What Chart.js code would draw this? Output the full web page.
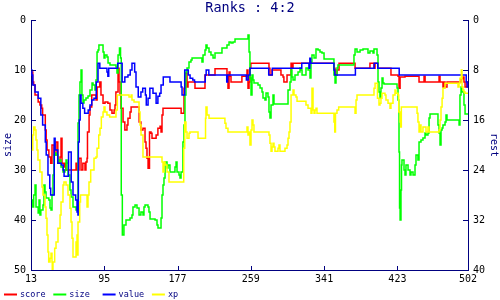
<!DOCTYPE html>
<html>
<head>
<meta charset="utf-8">
<script src="https://cdn.jsdelivr.net/npm/chart.js@4/dist/chart.umd.min.js"></script>
<style>
  html, body { margin: 0; padding: 0; background: #fff; }
  #wrap { width: 500px; height: 300px; }
</style>
</head>
<body>
<div id="wrap"><canvas id="c" width="500" height="300"></canvas></div>
<script>
// x ticks (turn index) and the two y ranges
const xTicks = [13, 95, 177, 259, 341, 423, 502];
const sizeRange = [0, 50];
const restRange = [0, 40];

// series as [turn, value] pairs
// score, value, xp on the "rest" axis; size on the "size" axis
const scorePts = [[14,8.3],[15,9.9],[16,10.4],[17.5,12],[21,13.1],[23,13.6],[25,14.1],[26,15.2],[29,17.6],[30,19.2],[31,20.8],[33,21.9],[35,22.9],[36.5,20],[38.7,21.6],[41,19.5],[43,22.9],[45.5,21.9],[46.6,18.9],[47.7,22.9],[50,23.5],[51,22.9],[52,24],[62,24],[63.4,22.9],[64.5,24],[66.7,22.1],[69,24],[71,22.9],[73.4,24],[74.5,22.7],[75.7,22.1],[76.2,17.9],[78,15.2],[79,13.9],[81,12],[84.6,12],[85.7,12.8],[87,10.7],[90,9.9],[91.3,12],[93.6,13.3],[95.8,13.1],[99,13.3],[101.4,14.4],[103.6,14.9],[106,14.4],[107,13.6],[108,11.5],[110.4,7.7],[111.5,9.9],[112.6,12],[113.7,14.1],[116,16.3],[118,17.6],[120.4,16.8],[121.5,15.7],[123.8,14.7],[125,13.9],[128,13.9],[134,16.3],[136,17.6],[138.3,17.3],[140.6,19.5],[141.7,20.5],[142.8,22.1],[144,23.7],[145.6,17.9],[147.3,18.1],[148.4,18.9],[153,18.4],[155,17.3],[157.4,17],[158.5,17.9],[159.6,15.2],[160.7,14.1],[179.7,14.1],[181,14.9],[183,14.9],[184.2,10.9],[185.3,8.5],[186.4,8.5],[187.6,10.7],[188.7,9.9],[195.4,9.9],[196.5,10.9],[206.6,10.9],[207.7,8.8],[217.8,8.8],[218.9,7.8],[231,7.8],[232.3,8.8],[233.4,10.9],[234.6,8.3],[235.7,9],[236.8,9.9],[248,9.9],[249,9],[253.6,9],[254.7,8],[255.8,10.9],[257,9.9],[258,7.7],[259,6.9],[278,6.9],[279.3,7.7],[280.4,8.8],[282.7,8],[291.6,8],[292.7,8.8],[295,9.1],[296,9.9],[298.3,9.9],[299.5,8.8],[302.8,8.8],[304,6.9],[305,7.7],[306.2,6.9],[351,6.9],[352,7.7],[353.2,8.8],[355.4,8],[357.7,6.9],[374.4,6.9],[375.6,7.7],[391.2,7.7],[392.3,6.9],[395.7,6.9],[396.8,7.7],[398,6.9],[400,6.9],[401.3,7.7],[414.7,7.7],[415.8,8.8],[423.7,9],[424.8,10.9],[426,9.1],[431.5,9],[446,9],[447.2,9.9],[451.6,9.9],[452.8,9],[454,9.9],[468.4,9.9],[469.6,9],[470.7,9.9],[473,9.9],[474,10.7],[475.2,9.9],[476.3,10.7],[478.5,9.9],[493,9.9],[494.2,9.4],[496.4,9.1],[497.5,9.9],[498.7,10.7],[500.9,9.9],[502,9.9]];

const sizePts = [[14,36],[15,37.4],[16,35],[17.5,33],[18.6,37.4],[21,38.6],[22,36],[23,39],[24,38],[26.4,37],[27.5,33],[28.7,34.4],[29.8,35.6],[33,36],[34.3,37.6],[35.4,38],[36.5,35],[37.6,31],[38.7,27],[39.9,26.6],[41,27],[43.2,28.4],[44.3,28],[46.6,29.4],[48.8,30.4],[51,30],[52.2,28],[53.3,28.6],[54.4,31],[56.6,34],[57.8,35.4],[60,37.4],[62.2,37.4],[63.4,38],[64.5,37.4],[65.6,20.6],[66.7,15],[67.8,12.4],[69,10],[70,15],[71.2,16.6],[72.3,16],[74.5,15.6],[76.8,15.2],[79,14],[81.3,12.6],[82.4,13],[84.6,14],[85.7,12],[86.9,6.4],[88,6],[89,5],[92.4,5],[93.6,6.4],[94.7,7.6],[95.8,7],[98,7.4],[99.2,8.6],[101.4,9],[108.1,9.4],[109.2,10.6],[110.4,7],[112,5.6],[113.2,7.6],[114,35],[115.2,43],[117,41],[119.3,40],[123.8,39.6],[126,39],[127.1,37.4],[129.4,37],[131.6,37.6],[133.9,39],[136,38.4],[138.3,39],[139.4,37.4],[140.6,37],[143.9,37.4],[145,38.4],[146.2,39.8],[151.8,40],[154,41],[155.1,41.6],[157.4,41.6],[158.5,39.6],[159.6,35],[160.7,33],[161.8,31.6],[163,28.4],[165.2,29.6],[166.3,29],[168.5,30.4],[171.9,30.4],[174.1,29.4],[175.3,28.4],[176.4,30.4],[178.6,31],[179.7,31.6],[180.9,30.4],[183,24.4],[184.2,21],[185.3,15],[186.4,10.4],[187.6,9.6],[189.8,8.4],[192,8],[193.2,7.6],[203.2,7.6],[204.3,8.4],[205.5,7],[207.7,6],[208.8,5],[210,5.6],[212.2,6.4],[214.4,7],[216.7,7.6],[218.9,6.6],[225.6,6.6],[226.7,5.6],[231.2,5.6],[232.3,5],[234.6,4.4],[236.8,4.6],[239,4.4],[241.3,3.8],[254.7,3.8],[255.8,3],[257,6.4],[258,11.6],[259.2,15],[260.3,11],[261.4,12],[262.5,12.6],[267,13],[269.3,13.6],[271.5,14.4],[272.6,15.6],[274.8,16],[276,14.6],[278.2,15.4],[279.3,18.4],[280.4,19.6],[281.6,17],[282.7,17],[283.8,15],[284.9,16.8],[299.5,16.8],[300.6,14],[302.8,12.4],[304,10],[305,11.4],[306.2,12],[308.4,11],[310.7,11],[311.8,10.4],[314,9.6],[315.1,10],[316.3,11],[319.6,11],[320.7,9.6],[323,10],[325.2,11.6],[326.3,8.4],[327.4,7],[329.7,7.6],[331.9,5.8],[334.2,6],[336.4,6.4],[338.6,6.6],[340.9,7.8],[351,7.8],[352,11],[353.2,12.6],[354.3,11],[355.4,9.6],[356.5,9],[373.3,9],[374.4,7],[375.6,5.8],[377.8,6.4],[381.2,6],[384.5,5.8],[389,5.8],[390.1,6.6],[392.3,6.2],[395.7,6.6],[396.8,5.8],[399,5.8],[400.2,7],[401.3,12.4],[402.4,14.4],[403.5,15.6],[404.6,13.6],[405.8,11.6],[406.9,12.6],[408,12.8],[421.4,12.8],[422.6,13.6],[423.7,16],[424.5,18.4],[424.8,26.4],[425.4,37.6],[426,40],[427,34],[427.6,29],[428.1,28],[430.4,30],[431.5,31],[432.6,29],[434.9,30],[437.1,31],[438.2,30.4],[440.5,31],[442.7,29],[443.8,27],[446,28],[447.2,24.4],[449.4,24],[451.6,23.6],[453.9,22.6],[455,23],[457.2,22.6],[458.4,19.6],[459.5,18.8],[467.3,18.8],[468.4,21],[469.6,22.6],[470.7,25],[471.8,22],[473,21.6],[474,21],[476.3,20.4],[477.4,19],[478.5,20],[490.8,20],[492,21],[493,15],[494.2,13.4],[495.3,14.4],[496.4,14.4],[497.5,17],[498.7,18.8],[502,18.8]];

const valuePts = [[13,8],[14,8.8],[15,10.4],[17.5,11.5],[21,12.5],[24,15.2],[26,16.8],[29,19.5],[30,21.6],[32,24.8],[34,26.9],[35,28],[39,18.9],[40,20.8],[43,22.9],[47,23.2],[49,24],[50,25],[54,25],[55,21.1],[58,25.9],[60,28],[63,28.8],[64.5,30.7],[65.5,31.2],[66,19.5],[67,16],[68,12],[69,13.3],[71,14.1],[73,14.9],[77,14.4],[79,13.6],[81,12.8],[83.5,12.5],[86,9.9],[88,6.9],[90,7.7],[97,7.7],[98,8.3],[99,9],[100,7.7],[108,7.7],[110,6.9],[114,6.9],[115,9.9],[118,9.1],[121.5,8.8],[124,8],[126,6.9],[127,6.9],[129,8.3],[130.5,10.7],[133,12.3],[136,11.5],[138,10.9],[141,12],[142,13.6],[144,12.5],[146,10.9],[149.5,11.7],[153,13.3],[155,12.2],[157,11.7],[158.5,10.4],[161,9.1],[166,9.1],[168.5,9.9],[180,9.9],[181,10.7],[182,12],[184,12],[185,8],[187.5,8],[189,8.8],[191,9.3],[194,9.6],[196,9.9],[205,9.9],[208,8.8],[209,8],[211,8],[212,8.8],[231,8.8],[232,9.9],[233,8.8],[252,8.8],[254,9.6],[256,8.8],[258,7.7],[278,7.7],[279,8.8],[282,8.8],[283,7.7],[315,7.7],[316,6.9],[323,6.9],[324,7.7],[325,6.1],[326,6.9],[351,6.9],[352,8],[353,8.8],[374,8.8],[376,7.7],[396,7.7],[397,6.9],[400,6.9],[401,7.7],[424,7.7],[425,8.8],[499,8.8],[500,9.9],[501,10.7],[502,10.7]];

const xpPts = [[14,20.8],[15,18.4],[16,17.1],[17.5,17.6],[18.6,19.2],[19.7,20.8],[20.8,22.4],[23,24.3],[25.3,26.7],[26.4,28],[28.7,29.9],[29.8,31.7],[30.9,34.4],[32,37.1],[32.8,38.7],[34.3,38.1],[35.4,37.3],[36.5,38.7],[36.8,40],[37.6,38.7],[39.5,36.5],[41,35.5],[43.2,33.3],[45.5,31.2],[46.6,29.1],[48.8,26.4],[49.9,25.9],[52.2,26.4],[54.4,28],[56.6,30.1],[57.8,32.3],[58.9,34.9],[60,37.9],[62.2,37.9],[63.4,35.5],[64.5,34.4],[65.1,37.6],[65.6,32.3],[67.5,29.1],[68.4,28],[74.5,28],[75.7,29.9],[76.8,28],[77.9,25.9],[79.8,24],[82.4,24],[83.5,22.1],[85.7,21.9],[86.9,20.5],[88.8,18.4],[90.2,17.3],[91.7,15.5],[93.6,14.7],[94.7,13.9],[95.8,14.7],[98,15.2],[101,15.5],[107,15.5],[108.1,14.4],[109.6,12],[120.4,12],[122.7,12.3],[125,12],[126,12.8],[128.3,13.1],[132.7,13.1],[133.9,14.7],[135,16.8],[136.1,18.4],[138.3,21.9],[157.4,21.9],[159.6,22.7],[160.7,24.3],[161.8,22.7],[163,23.2],[165.2,24.3],[167.4,25.9],[183,25.9],[183.9,20.5],[185,16.3],[186.4,17.9],[187.6,18.9],[189.8,18.1],[190.9,17.9],[198.8,17.9],[199.9,18.9],[207.7,18.9],[208.3,15.7],[208.8,13.9],[210,15.2],[212.2,15.7],[227.8,15.7],[230,16.5],[231.2,17.3],[233.4,17.9],[253.6,17.9],[254.7,17.1],[255.8,18.4],[257,17.9],[258,20],[259.2,17.6],[260.3,16],[261.4,16.8],[262.5,17.9],[278.2,17.9],[279.3,18.4],[280.4,19.7],[281.6,21],[282.7,20.3],[283.8,19.7],[284.9,20.3],[286,21],[289.4,20.5],[290.5,20],[291.6,21],[296,21],[297.2,20.5],[299.5,20],[300.6,18.9],[301.7,17.9],[302.8,16.3],[304,12],[306.2,11.2],[307.3,12],[309.5,12.3],[310.7,13],[319.6,13],[320.7,13.6],[323,14.1],[325.2,14.1],[326.3,14.9],[327.4,10.9],[328.6,14.4],[329.7,14.9],[330.8,14.4],[331.9,14.1],[333,14.9],[351,14.9],[352,16.3],[352.9,17.9],[353.7,14.9],[355.4,14.4],[357.3,13.9],[374.4,13.9],[375.6,14.9],[376.7,12.8],[377.8,12],[395.7,12],[396.8,10.9],[398,10.1],[400.2,10.1],[400.7,12.5],[402.4,13.6],[403.5,13.3],[404.6,12.5],[405.8,11.7],[409.1,12],[410.2,12.8],[412.5,13.3],[414.7,14.1],[415.8,13.3],[418.1,12],[420.3,11.2],[421.4,11.7],[423.7,12],[424.5,14.7],[426,16.3],[426.7,17.1],[427.4,13.9],[443.8,13.9],[445,14.9],[446,16.3],[447.2,17.9],[448.3,16.8],[449.4,17.9],[451.6,17.1],[453.9,17.1],[455,17.9],[457.2,17.1],[458.4,17.9],[468.4,17.9],[469.6,17.6],[470.7,16],[471.8,13.9],[473,12.5],[474,10.9],[476.3,10.1],[488.6,10.1],[490.8,10.7],[492,10.1],[493,9.3],[494.5,8],[495.3,10.7],[496.4,11.2],[497.5,11.5],[498.7,11.7],[502,11.7]];

const NAVY = '#000080';
const MONO = '"DejaVu Sans Mono", "Liberation Mono", monospace';

function series(label, pts, color, axis, order) {
  return {
    label: label,
    data: pts.map(p => ({x: p[0], y: p[1]})),
    borderColor: color,
    backgroundColor: color,
    borderWidth: 1.5,
    pointRadius: 0,
    stepped: true,
    fill: false,
    yAxisID: axis,
    order: order
  };
}

// little tick marks pointing into the plot
const innerTicks = {
  id: 'innerTicks',
  afterDraw(chart) {
    const {ctx, chartArea: a, scales} = chart;
    ctx.save();
    ctx.strokeStyle = NAVY;
    ctx.lineWidth = 1;
    ctx.beginPath();
    scales.x.ticks.forEach(t => {
      const px = Math.round(scales.x.getPixelForValue(t.value)) + 0.5;
      ctx.moveTo(px, a.bottom); ctx.lineTo(px, a.bottom - 4);
    });
    scales.y.ticks.forEach(t => {
      const py = Math.round(scales.y.getPixelForValue(t.value)) + 0.5;
      ctx.moveTo(a.left, py); ctx.lineTo(a.left + 5, py);
    });
    scales.y1.ticks.forEach(t => {
      const py = Math.round(scales.y1.getPixelForValue(t.value)) + 0.5;
      ctx.moveTo(a.right, py); ctx.lineTo(a.right - 5, py);
    });
    ctx.stroke();
    ctx.restore();
  }
};

// legend row along the bottom, fixed slots
const bottomLegend = {
  id: 'bottomLegend',
  afterDraw(chart) {
    const ctx = chart.ctx;
    ctx.save();
    ctx.font = '8.5px ' + MONO;
    ctx.textBaseline = 'middle';
    ctx.fillStyle = NAVY;
    chart.data.datasets.forEach((ds, i) => {
      const x0 = 4 + i * 49.3;
      ctx.strokeStyle = ds.borderColor;
      ctx.lineWidth = 2;
      ctx.beginPath();
      ctx.moveTo(x0, 294.5); ctx.lineTo(x0 + 13, 294.5);
      ctx.stroke();
      ctx.fillText(ds.label, x0 + 16, 294.5);
    });
    ctx.restore();
  }
};

new Chart(document.getElementById('c'), {
  type: 'line',
  data: {
    datasets: [
      series('score', scorePts, '#ff0000', 'y1', 3),
      series('size', sizePts, '#00ff00', 'y', 2),
      series('value', valuePts, '#0000ff', 'y1', 1),
      series('xp', xpPts, '#ffff00', 'y1', 0)
    ]
  },
  options: {
    responsive: false,
    animation: false,
    events: [],
    layout: { padding: 0 },
    plugins: {
      legend: { display: false },
      tooltip: { enabled: false },
      title: {
        display: true,
        text: 'Ranks : 4:2',
        color: NAVY,
        font: { family: MONO, size: 13.5, weight: 'normal', lineHeight: 1.2 },
        padding: { top: 0, bottom: 3.8 }
      }
    },
    scales: {
      x: {
        type: 'linear',
        min: xTicks[0],
        max: xTicks[xTicks.length - 1],
        afterBuildTicks: s => { s.ticks = xTicks.map(v => ({value: v})); },
        afterFit: s => { s.height = 30; },
        grid: { display: false, drawTicks: false },
        border: { display: true, color: NAVY, width: 1 },
        ticks: { color: '#000', padding: 3, maxRotation: 0, autoSkip: false,
                 font: { family: MONO, size: 10 }, callback: v => String(v) }
      },
      y: {
        position: 'left',
        reverse: true,
        min: sizeRange[0],
        max: sizeRange[1],
        afterFit: s => { s.width = 31; },
        grid: { display: false, drawTicks: false },
        border: { display: true, color: NAVY, width: 1 },
        ticks: { stepSize: 10, color: '#000', padding: 5, font: { family: MONO, size: 10 } },
        title: { display: true, text: 'size', color: NAVY, padding: { top: 2.5, bottom: 0 },
                 font: { family: MONO, size: 10 } }
      },
      y1: {
        position: 'right',
        reverse: true,
        min: restRange[0],
        max: restRange[1],
        afterFit: s => { s.width = 32; },
        grid: { display: false, drawTicks: false },
        border: { display: true, color: NAVY, width: 1 },
        ticks: { stepSize: 8, color: '#000', padding: 5, font: { family: MONO, size: 10 } },
        title: { display: true, text: 'rest', color: NAVY, padding: { top: 0, bottom: 0 },
                 font: { family: MONO, size: 10 } }
      }
    }
  },
  plugins: [innerTicks, bottomLegend]
});
</script>
</body>
</html>
